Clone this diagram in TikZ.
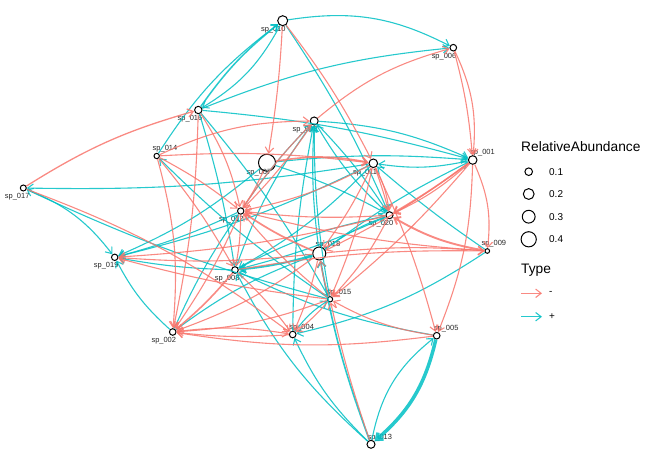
\documentclass[tikz,border=0pt]{standalone}
\usepackage{fontspec}
\newfontfamily\arialf{Liberation Sans}
\usetikzlibrary{arrows.meta}
\definecolor{cneg}{HTML}{F8766D}
\definecolor{cpos}{HTML}{00BFC4}
\begin{document}
\begin{tikzpicture}[x=1bp,y=-1bp,
  spn/.style={circle,draw=black,line width=1bp,inner sep=0pt,outer sep=0.6bp,minimum size=#1},
  lbl/.style={font=\arialf\fontsize{7.5}{8}\selectfont,inner sep=0pt,text=black!85},
  edgebase/.style={line width=1.1bp,draw opacity=0.85,-{Straight Barb[length=5.5bp,width=8.5bp]}},
  edgeneg/.style={edgebase,draw=cneg},
  edgepos/.style={edgebase,draw=cpos},
  legt/.style={font=\arialf\fontsize{13.8}{15}\selectfont,inner sep=0pt,anchor=west},
  legl/.style={font=\arialf\fontsize{10}{11}\selectfont,inner sep=0pt,anchor=west}
]
\useasboundingbox (0,0) rectangle (646,466);
% nodes
\node[spn=8.6bp]  (n01) at (472.7,160) {};
\node[spn=6.6bp]  (n02) at (172.7,332) {};
\node[spn=8bp]    (n03) at (314.2,121) {};
\node[spn=6.6bp]  (n04) at (292.7,334.5) {};
\node[spn=6.6bp]  (n05) at (436.7,335.7) {};
\node[spn=6.6bp]  (n06) at (453.3,47.7) {};
\node[spn=17bp]   (n07) at (267,162.7) {};
\node[spn=6.6bp]  (n08) at (235,270) {};
\node[spn=4.6bp]  (n09) at (487.3,251) {};
\node[spn=10bp]   (n10) at (282.7,20.7) {};
\node[spn=8.6bp]  (n11) at (373.3,163.3) {};
\node[spn=6.4bp]  (n12) at (240.7,211) {};
\node[spn=8bp]    (n13) at (371,444.3) {};
\node[spn=5.4bp]  (n14) at (156.7,156) {};
\node[spn=5.4bp]  (n15) at (330,299.3) {};
\node[spn=7.4bp]  (n16) at (198.3,110) {};
\node[spn=6bp]    (n17) at (23.3,188) {};
\node[spn=13bp]   (n18) at (319.3,253.5) {};
\node[spn=6.4bp]  (n19) at (114.7,257.3) {};
\node[spn=7bp]    (n20) at (389.5,215.2) {};
% labels
\node[lbl] (l01) at (482.5,152.3) {sp\_001};
\node[lbl] (l02) at (163.8,341) {sp\_002};
\node[lbl] (l03) at (305,129.3) {sp\_003};
\node[lbl] (l04) at (301.7,327.7) {sp\_004};
\node[lbl] (l05) at (446.2,328.3) {sp\_005};
\node[lbl] (l06) at (444,56.7) {sp\_006};
\node[lbl] (l07) at (259,172.7) {sp\_007};
\node[lbl] (l08) at (227.2,279) {sp\_008};
\node[lbl] (l09) at (493.8,244) {sp\_009};
\node[lbl] (l10) at (273.3,29.3) {sp\_010};
\node[lbl] (l11) at (365,172.3) {sp\_011};
\node[lbl] (l12) at (231.3,220) {sp\_012};
\node[lbl] (l13) at (379.8,437.3) {sp\_013};
\node[lbl] (l14) at (165,148.7) {sp\_014};
\node[lbl] (l15) at (339,292.3) {sp\_015};
\node[lbl] (l16) at (190,118.7) {sp\_016};
\node[lbl] (l17) at (17.2,196.7) {sp\_017};
\node[lbl] (l18) at (328,245) {sp\_018};
\node[lbl] (l19) at (106.2,265.7) {sp\_019};
\node[lbl] (l20) at (381,223.3) {sp\_020};
% positive (teal) edges
\draw[edgepos] (n10) to[bend left=18] (n06);
\draw[edgepos] (n16) to[bend left=8] (n06);
\draw[edgepos] (n10) to[bend left=15] (n16);
\draw[edgepos,line width=1.5bp] (n16) to[bend left=8] (n10);
\draw[edgepos] (n14) to[bend left=10] (n10);
\draw[edgepos] (n10) to[bend left=5] (n20);
\draw[edgepos] (n16) to[bend left=5] (n01);
\draw[edgepos] (n16) to[bend left=5] (n15);
\draw[edgepos] (n16) to[bend left=4] (n08);
\draw[edgepos] (n11) to[bend left=5] (n17);
\draw[edgepos] (n15) to[bend left=5] (n17);
\draw[edgepos] (n17) to[bend left=15] (n19);
\draw[edgepos] (n02) to[bend left=10] (n19);
\draw[edgepos] (n12) to[bend left=5] (n19);
\draw[edgepos] (n11) to[bend left=6] (n19);
\draw[edgepos] (n08) to[bend left=4] (n19);
\draw[edgepos] (n07) to[bend left=8] (n19);
\draw[edgepos] (n13) to[bend left=20] (n05);
\draw[edgepos,line width=3.5bp] (n05) to[bend left=18] (n13);
\draw[edgepos] (n13) to[bend left=10] (n04);
\draw[edgepos] (n13) to[bend left=10] (n08);
\draw[edgepos,line width=1.6bp] (n13) to[bend left=5] (n18);
\draw[edgepos] (n09) to[bend left=10] (n04);
\draw[edgepos] (n09) to[bend left=3] (n11);
\draw[edgepos] (n05) to[bend left=8] (n08);
\draw[edgepos] (n04) to[bend left=10] (n15);
\draw[edgepos] (n15) to[bend left=5] (n03);
\draw[edgepos] (n08) to[bend left=8] (n03);
\draw[edgepos] (n12) to[bend left=5] (n03);
\draw[edgepos] (n18) to[bend left=5] (n03);
\draw[edgepos] (n20) to[bend left=8] (n03);
\draw[edgepos] (n04) to[bend left=5] (n03);
\draw[edgepos] (n03) to[bend left=10] (n01);
\draw[edgepos] (n07) to[bend left=5] (n01);
\draw[edgepos] (n01) to[bend left=10] (n11);
\draw[edgepos] (n18) to[bend left=5] (n01);
\draw[edgepos] (n03) to[bend left=5] (n20);
\draw[edgepos] (n07) to[bend left=5] (n20);
\draw[edgepos,line width=1.9bp] (n18) to[bend left=5] (n08);
\draw[edgepos] (n20) to[bend left=5] (n08);
\draw[edgepos] (n11) to[bend left=8] (n08);
\draw[edgepos] (n18) to[bend left=8] (n20);
\draw[edgepos] (n08) to[bend left=8] (n20);
\draw[edgepos] (n15) to[bend left=5] (n14);
\draw[edgepos] (n02) to[bend left=5] (n12);
\draw[edgepos] (n02) to[bend left=8] (n18);
% negative (red) edges
\draw[edgeneg,line width=1.3bp] (n17) to[bend left=8] (n16);
\draw[edgeneg] (n10) to[bend left=3] (n07);
\draw[edgeneg] (n10) to[bend left=5] (n11);
\draw[edgeneg] (n03) to[bend left=12] (n06);
\draw[edgeneg] (n06) to[bend left=5] (n01);
\draw[edgeneg] (n06) to[bend left=15] (n01);
\draw[edgeneg] (n01) to[bend left=15] (n09);
\draw[edgeneg,line width=1.6bp] (n01) to[bend left=3] (n20);
\draw[edgeneg] (n01) to[bend left=8] (n20);
\draw[edgeneg,line width=1.9bp] (n09) to[bend left=10] (n20);
\draw[edgeneg] (n01) to[bend left=5] (n18);
\draw[edgeneg] (n01) to[bend left=5] (n15);
\draw[edgeneg] (n01) to[bend left=10] (n05);
\draw[edgeneg] (n11) to[bend left=5] (n05);
\draw[edgeneg] (n05) to[bend left=10] (n15);
\draw[edgeneg] (n05) to[bend left=8] (n02);
\draw[edgeneg,line width=1.6bp] (n07) to[bend left=10] (n11);
\draw[edgeneg] (n14) to[bend left=5] (n11);
\draw[edgeneg] (n14) to[bend left=12] (n03);
\draw[edgeneg] (n14) to[bend left=5] (n12);
\draw[edgeneg] (n14) to[bend left=5] (n08);
\draw[edgeneg] (n14) to[bend left=10] (n02);
\draw[edgeneg] (n16) to[bend left=10] (n12);
\draw[edgeneg] (n16) to[bend left=5] (n02);
\draw[edgeneg] (n07) to[bend left=5] (n12);
\draw[edgeneg] (n03) to[bend left=5] (n12);
\draw[edgeneg,line width=1.7bp] (n18) to[bend left=5] (n12);
\draw[edgeneg] (n20) to[bend left=5] (n12);
\draw[edgeneg] (n11) to[bend left=8] (n12);
\draw[edgeneg] (n09) to[bend left=5] (n12);
\draw[edgeneg] (n15) to[bend left=5] (n12);
\draw[edgeneg] (n12) to[bend left=5] (n08);
\draw[edgeneg] (n12) to[bend left=5] (n02);
\draw[edgeneg] (n18) to[bend left=5] (n19);
\draw[edgeneg] (n20) to[bend left=5] (n19);
\draw[edgeneg] (n15) to[bend left=4] (n19);
\draw[edgeneg,line width=1.6bp] (n08) to[bend left=5] (n02);
\draw[edgeneg] (n18) to[bend left=8] (n02);
\draw[edgeneg] (n15) to[bend left=8] (n02);
\draw[edgeneg] (n04) to[bend left=5] (n02);
\draw[edgeneg] (n02) to[bend left=8] (n04);
\draw[edgeneg] (n15) to[bend left=5] (n04);
\draw[edgeneg] (n08) to[bend left=5] (n04);
\draw[edgeneg] (n18) to[bend left=5] (n04);
\draw[edgeneg] (n15) to[bend left=5] (n18);
\draw[edgeneg] (n11) to[bend left=5] (n18);
\draw[edgeneg] (n11) to[bend left=5] (n15);
\draw[edgeneg] (n20) to[bend left=8] (n15);
\draw[edgeneg] (n13) to[bend left=3] (n15);
\draw[edgeneg] (n18) to[bend left=5] (n09);
\draw[edgeneg] (n08) to[bend left=5] (n09);
\draw[edgeneg] (n11) to[bend left=10] (n20);
\draw[edgeneg] (n11) to[bend left=3] (n20);
\draw[edgeneg] (n12) to[bend left=5] (n03);
\draw[edgeneg] (n17) to[bend left=8] (n04);
% legend
\node[legt] (lt1) at (521,147) {RelativeAbundance};
\node[spn=7.6bp]  (c1) at (528.7,171.7) {};
\node[spn=10.8bp] (c2) at (528.7,194) {};
\node[spn=12.8bp] (c3) at (528.7,216.7) {};
\node[spn=15.2bp] (c4) at (528.7,239.3) {};
\node[legl] (v1) at (549,171.7) {0.1};
\node[legl] (v2) at (549,194) {0.2};
\node[legl] (v3) at (549,216.7) {0.3};
\node[legl] (v4) at (549,239.3) {0.4};
\node[legt] (lt2) at (521,270) {Type};
\coordinate (a1s) at (521,293.3);
\coordinate (a1e) at (542,293.3);
\coordinate (a2s) at (521,316.7);
\coordinate (a2e) at (542,316.7);
\draw[edgeneg] (a1s) -- (a1e);
\draw[edgepos] (a2s) -- (a2e);
\node[legl] (t1) at (549,293.3) {-};
\node[legl] (t2) at (549,316.7) {+};
\end{tikzpicture}
\end{document}
